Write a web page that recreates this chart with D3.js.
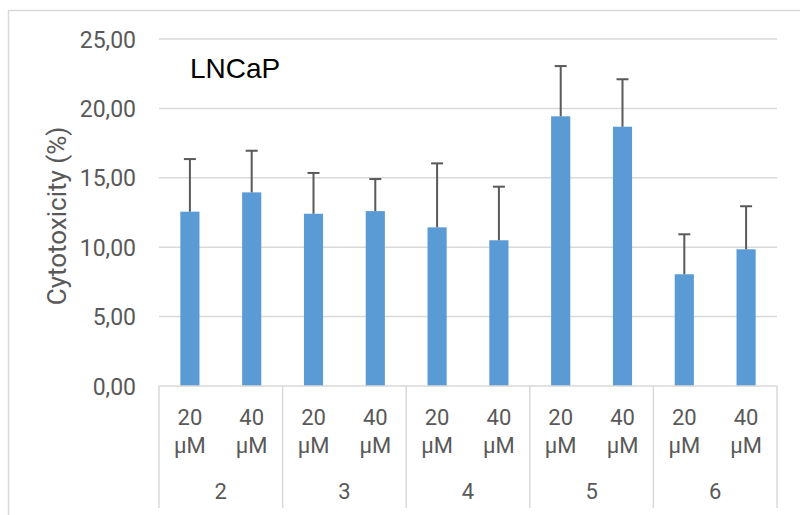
<!DOCTYPE html>
<html><head><meta charset="utf-8">
<script src="https://cdn.jsdelivr.net/npm/d3@7/dist/d3.min.js"></script>
<style>html,body{margin:0;padding:0;background:#fff;}svg{display:block;}</style>
</head><body>
<svg id="chart" width="800" height="515"></svg>
<script>
const groups = ["2", "3", "4", "5", "6"];
const doses = ["20 µM", "40 µM"];
const values20 = [12.56, 12.41, 11.43, 19.43, 8.05];
const values40 = [13.95, 12.60, 10.50, 18.68, 9.85];
const err20 = [3.79, 2.94, 4.61, 3.62, 2.88];
const err40 = [3.00, 2.31, 3.86, 3.42, 3.10];
const yTicks = [0, 5, 10, 15, 20, 25];
const title = "LNCaP";
const yLabel = "Cytotoxicity (%)";

const data = [];
groups.forEach((g, i) => {
  data.push({group: g, dose: doses[0], value: values20[i], err: err20[i]});
  data.push({group: g, dose: doses[1], value: values40[i], err: err40[i]});
});

const svg = d3.select("#chart");
const pLeft = 159, pRight = 777, pTop = 39, pBottom = 386;
const grid = "#d9d9d9", textCol = "#595959";
const font = "Roboto, 'Liberation Sans', sans-serif";
const weight = 400;

// chart border
svg.append("path").attr("d", "M8.5,515 L8.5,10.5 L800,10.5")
  .attr("fill", "none").attr("stroke", grid).attr("stroke-width", 1.5);

const x0 = d3.scaleBand().domain(groups).range([pLeft, pRight]).padding(0);
const x1 = d3.scaleBand().domain(doses).range([0, x0.bandwidth()]).paddingInner(0.69).paddingOuter(0.345);
const y = d3.scaleLinear().domain([0, 25]).range([pBottom, pTop]);

// gridlines
svg.append("g").selectAll("line").data(yTicks.filter(t => t > 0)).join("line")
  .attr("x1", pLeft).attr("x2", pRight)
  .attr("y1", d => y(d)).attr("y2", d => y(d))
  .attr("stroke", grid).attr("stroke-width", 1.5);

// y axis tick labels
const fmt = d => d.toFixed(2).replace(".", ",");
const yAxis = d3.axisLeft(y).tickValues(yTicks).tickFormat(fmt).tickSize(0).tickPadding(23);
const ya = svg.append("g").attr("transform", `translate(${pLeft},0)`).call(yAxis);
ya.select(".domain").remove();
ya.selectAll("text").attr("font-family", font).attr("font-weight", weight).attr("font-size", 23).attr("fill", textCol).attr("dy", "0.35em");

// bars
svg.append("g").selectAll("rect").data(data).join("rect")
  .attr("x", d => x0(d.group) + x1(d.dose))
  .attr("width", x1.bandwidth())
  .attr("y", d => y(d.value))
  .attr("height", d => y(0) - y(d.value))
  .attr("fill", "#5b9bd5");

// error bars
const eb = svg.append("g").attr("stroke", "#595959").attr("stroke-width", 2);
data.forEach(d => {
  const cx = x0(d.group) + x1(d.dose) + x1.bandwidth() / 2;
  eb.append("line").attr("x1", cx).attr("x2", cx).attr("y1", y(d.value)).attr("y2", y(d.value + d.err));
  eb.append("line").attr("x1", cx - 6).attr("x2", cx + 6).attr("y1", y(d.value + d.err)).attr("y2", y(d.value + d.err));
});

// category axis line and separators
svg.append("line").attr("x1", pLeft).attr("x2", pRight).attr("y1", pBottom).attr("y2", pBottom)
  .attr("stroke", grid).attr("stroke-width", 1.5);
const seps = groups.map(g => x0(g)).concat([x0(groups[groups.length - 1]) + x0.bandwidth()]);
svg.append("g").selectAll("line").data(seps).join("line")
  .attr("x1", d => d).attr("x2", d => d).attr("y1", pBottom).attr("y2", 508)
  .attr("stroke", grid).attr("stroke-width", 1.5);

// dose labels
const lab = svg.append("g").attr("font-family", font).attr("font-weight", weight).attr("font-size", 22).attr("fill", textCol).attr("text-anchor", "middle");
data.forEach(d => {
  const cx = x0(d.group) + x1(d.dose) + x1.bandwidth() / 2;
  const parts = d.dose.split(" ");
  lab.append("text").attr("x", cx).attr("y", 425).text(parts[0]);
  lab.append("text").attr("x", cx).attr("y", 453).text(parts[1]);
});
// group labels
groups.forEach(g => {
  lab.append("text").attr("x", x0(g) + x0.bandwidth() / 2).attr("y", 499).text(g);
});

// y label
svg.append("text").attr("transform", "translate(66,216) rotate(-90)")
  .attr("text-anchor", "middle").attr("font-family", font).attr("font-weight", weight).attr("font-size", 26)
  .attr("fill", textCol).text(yLabel);

// title
svg.append("text").attr("x", 190).attr("y", 78)
  .attr("font-family", "'Liberation Sans Narrow', 'Arial Narrow', sans-serif").attr("font-size", 28)
  .attr("fill", "#000").text(title);
</script>
</body></html>
